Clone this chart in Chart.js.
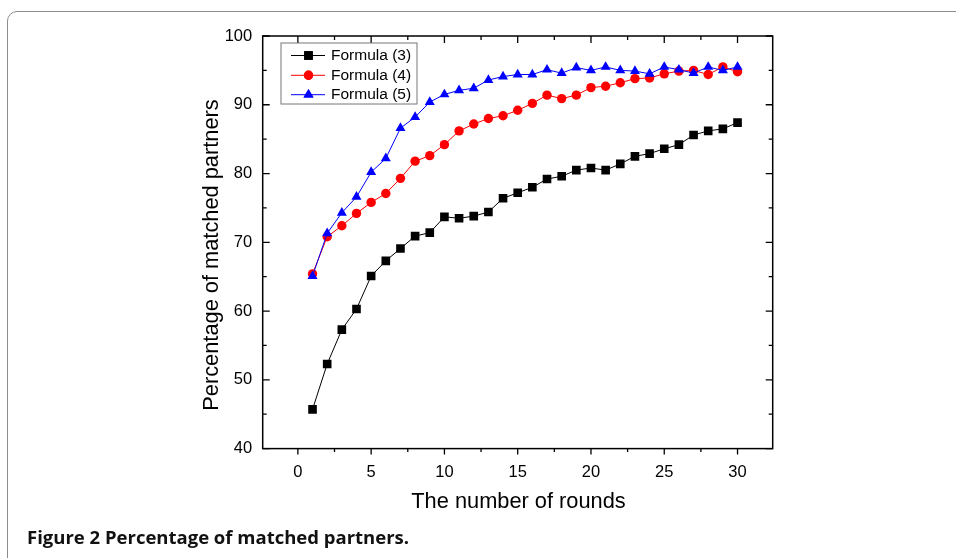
<!DOCTYPE html>
<html>
<head>
<meta charset="utf-8">
<script src="https://cdn.jsdelivr.net/npm/chart.js@4.4.0/dist/chart.umd.min.js"></script>
<style>
  html, body { margin: 0; padding: 0; background: #fff; }
  #wrap { position: relative; width: 956px; height: 558px; overflow: hidden; }
  #frame { position: absolute; left: 7px; top: 11px; width: 1000px; height: 600px;
           border: 1.5px solid #8c8c8c; border-radius: 10px; box-sizing: border-box; }
  #chart { position: absolute; left: 0; top: 0; }
  #caption { position: absolute; left: 27px; top: 527px; font: bold 18.5px/20px "Open Sans", sans-serif;
             color: #111; }
</style>
</head>
<body>
<div id="wrap">
  <div id="frame"></div>
  <canvas id="chart" width="956" height="558"></canvas>
  <div id="caption">Figure 2 Percentage of matched partners.</div>
</div>
<script>
// Data
const rounds = [1,2,3,4,5,6,7,8,9,10,11,12,13,14,15,16,17,18,19,20,21,22,23,24,25,26,27,28,29,30];
const formula3 = [45.7,52.3,57.3,60.3,65.1,67.3,69.1,70.9,71.4,73.7,73.5,73.8,74.4,76.4,77.2,
                  78.0,79.2,79.6,80.5,80.8,80.5,81.4,82.5,82.9,83.6,84.2,85.6,86.2,86.5,87.4];
const formula4 = [65.4,70.8,72.4,74.2,75.8,77.1,79.3,81.8,82.6,84.2,86.2,87.2,88.0,88.4,89.2,
                  90.2,91.4,90.9,91.4,92.5,92.7,93.2,93.8,93.9,94.5,94.9,95.0,94.4,95.5,94.8];
const formula5 = [65.1,71.3,74.3,76.6,80.2,82.2,86.6,88.2,90.4,91.5,92.1,92.4,93.6,94.1,94.4,
                  94.4,95.1,94.6,95.4,95.0,95.5,95.0,94.9,94.5,95.5,95.1,94.6,95.5,95.0,95.5];
const seriesNames = ['Formula (3)', 'Formula (4)', 'Formula (5)'];

// Axis ticks
const xMajorTicks = [0,5,10,15,20,25,30];
const xMinorTicks = [2.5,7.5,12.5,17.5,22.5,27.5];
const yMajorTicks = [40,50,60,70,80,90,100];
const yMinorTicks = [45,55,65,75,85,95];

const FONT = '"Liberation Sans", Arial, sans-serif';

function points(ys) {
  return rounds.map((r, i) => ({ x: r, y: ys[i] }));
}

// plot box + inward ticks (bottom ticks point outward like the original)
const boxPlugin = {
  id: 'boxTicks',
  afterDraw(chart) {
    const ctx = chart.ctx;
    const { left, right, top, bottom } = chart.chartArea;
    const xs = chart.scales.x, ys = chart.scales.y;
    ctx.save();
    ctx.strokeStyle = '#000';
    ctx.lineWidth = 1.5;
    ctx.strokeRect(left, top, right - left, bottom - top);
    ctx.lineWidth = 1.3;
    ctx.beginPath();
    xMajorTicks.forEach(v => {
      const p = xs.getPixelForValue(v);
      ctx.moveTo(p, bottom); ctx.lineTo(p, bottom + 6);
      ctx.moveTo(p, top); ctx.lineTo(p, top + 7);
    });
    xMinorTicks.forEach(v => {
      const p = xs.getPixelForValue(v);
      ctx.moveTo(p, bottom); ctx.lineTo(p, bottom + 3.5);
      ctx.moveTo(p, top); ctx.lineTo(p, top + 4);
    });
    yMajorTicks.forEach(v => {
      const p = ys.getPixelForValue(v);
      ctx.moveTo(left, p); ctx.lineTo(left + 7, p);
      ctx.moveTo(right, p); ctx.lineTo(right - 7, p);
    });
    yMinorTicks.forEach(v => {
      const p = ys.getPixelForValue(v);
      ctx.moveTo(left, p); ctx.lineTo(left + 4, p);
      ctx.moveTo(right, p); ctx.lineTo(right - 4, p);
    });
    ctx.stroke();

    // axis titles
    ctx.fillStyle = '#000';
    ctx.font = '21.8px ' + FONT;
    ctx.textAlign = 'center';
    ctx.textBaseline = 'middle';
    ctx.fillText('The number of rounds', 518.5, 502);
    ctx.translate(212, 255);
    ctx.rotate(-Math.PI / 2);
    ctx.fillText('Percentage of matched partners', 0, 0);
    ctx.restore();
  }
};

// legend drawn inside the plot, upper left
const legendPlugin = {
  id: 'innerLegend',
  afterDraw(chart) {
    const ctx = chart.ctx;
    ctx.save();
    ctx.strokeStyle = '#777';
    ctx.lineWidth = 1;
    ctx.strokeRect(281, 43, 136, 61);
    const rows = [55.5, 75.3, 94.7];
    chart.data.datasets.forEach((ds, i) => {
      const y = rows[i];
      ctx.strokeStyle = ds.borderColor;
      ctx.lineWidth = 1;
      ctx.beginPath();
      ctx.moveTo(291, y); ctx.lineTo(325, y);
      ctx.stroke();
      ctx.fillStyle = ds.pointBackgroundColor;
      Chart.helpers.drawPoint(ctx, { pointStyle: ds.pointStyle, radius: ds.pointRadius, borderWidth: 0, rotation: 0 }, 308.5, y);
      ctx.fill();
      ctx.fillStyle = '#000';
      ctx.font = '15.5px ' + FONT;
      ctx.textAlign = 'left';
      ctx.textBaseline = 'middle';
      ctx.fillText(ds.label, 331, y + 0.5);
    });
    ctx.restore();
  }
};

new Chart(document.getElementById('chart'), {
  type: 'line',
  data: {
    datasets: [
      { label: seriesNames[0], data: points(formula3), borderColor: '#000000', backgroundColor: '#000000',
        pointBackgroundColor: '#000000', pointStyle: 'rect', pointRadius: 6.1, order: 2 },
      { label: seriesNames[1], data: points(formula4), borderColor: '#ff0000', backgroundColor: '#ff0000',
        pointBackgroundColor: '#ff0000', pointStyle: 'circle', pointRadius: 4.7, order: 1 },
      { label: seriesNames[2], data: points(formula5), borderColor: '#0000ff', backgroundColor: '#0000ff',
        pointBackgroundColor: '#0000ff', pointStyle: 'triangle', pointRadius: 5.8, order: 0 }
    ]
  },
  options: {
    responsive: false,
    animation: false,
    devicePixelRatio: 1,
    layout: { padding: { left: 0, top: 36, right: 183.3, bottom: 0 } },
    elements: {
      line: { borderWidth: 1, tension: 0, fill: false },
      point: { borderWidth: 0, hoverRadius: 6 }
    },
    plugins: { legend: { display: false }, tooltip: { enabled: false } },
    scales: {
      x: {
        type: 'linear', min: -2.4, max: 32.4,
        grid: { display: false, drawTicks: false },
        border: { display: false },
        afterBuildTicks: s => { s.ticks = xMajorTicks.map(v => ({ value: v })); },
        afterFit: s => { s.height = 109.4; },
        ticks: { color: '#000', font: { family: FONT, size: 16.5 }, padding: 14, maxRotation: 0 }
      },
      y: {
        type: 'linear', min: 40, max: 100,
        grid: { display: false, drawTicks: false },
        border: { display: false },
        afterBuildTicks: s => { s.ticks = yMajorTicks.map(v => ({ value: v })); },
        afterFit: s => { s.width = 262.7; },
        ticks: { color: '#000', font: { family: FONT, size: 16.5 }, padding: 10.5 }
      }
    }
  },
  plugins: [boxPlugin, legendPlugin]
});
</script>
</body>
</html>
